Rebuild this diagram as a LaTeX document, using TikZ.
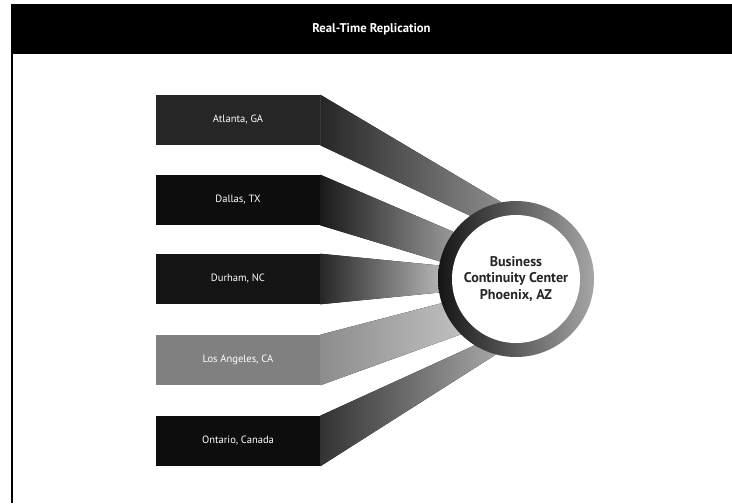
\documentclass[tikz,border=0pt]{standalone}
\usepackage{fontspec}
\setmainfont{PT Sans}
\usetikzlibrary{calc}
\pgfdeclarelayer{bg}
\pgfsetlayers{bg,main}

\begin{document}
\begin{tikzpicture}[x=0.25mm,y=-0.25mm,
	city/.style={minimum width=41mm, minimum height=12.5mm, inner sep=0pt, text=white, font=\fontsize{7.5}{9}\selectfont},
	ring/.style={circle, minimum size=39mm, inner sep=0pt, left color=black!92, right color=black!35}]
		\useasboundingbox (0,0) rectangle (732,503);
		% header and frame
		\node[fill=black, minimum width=180.25mm, minimum height=12.5mm, inner sep=0pt, text=white, font=\fontsize{9}{11}\selectfont\bfseries] (title) at (371.5,29) {Real-Time Replication};
		\coordinate (frametop) at (12,54);
		\coordinate (framebot) at (12,503);
		\draw[line width=0.6mm] (frametop) -- (framebot);
		% sites
		\node[city, fill=black!85] (atl) at (238,120) {Atlanta, GA};
		\node[city, fill=black!95] (dal) at (238,200) {Dallas, TX};
		\node[city, fill=black!92] (dur) at (238,279) {Durham, NC};
		\node[city, fill=black!50] (la) at (238,360) {Los Angeles, CA};
		\node[city, fill=black!95] (ont) at (238,441) {Ontario, Canada};
		% center
		\node[ring] (bcc) at (516,279) {};
		\node[circle, fill=white, minimum size=32mm, inner sep=0pt, align=center, text=black!85, font=\fontsize{10}{12}\selectfont\bfseries] (bcctext) at (bcc) {Business\\Continuity Center\\Phoenix, AZ};
		% bands
		\begin{pgfonlayer}{bg}
		\fill[left color=black!85, right color=black!45] (atl.north east)--(bcc.101)--(bcc.126)--(atl.south east)--cycle;
		\fill[left color=black!90, right color=black!40] (dal.north east)--(bcc.143)--(bcc.167)--(dal.south east)--cycle;
		\fill[left color=black!85, right color=black!30] (dur.north east)--(bcc.170)--(bcc.190)--(dur.south east)--cycle;
		\fill[left color=black!45, right color=black!25] (la.north east)--(bcc.198)--(bcc.225)--(la.south east)--cycle;
		\fill[left color=black!80, right color=black!35] (ont.north east)--(bcc.238)--(bcc.255)--(ont.south east)--cycle;
		\end{pgfonlayer}
	\end{tikzpicture}
\end{document}
